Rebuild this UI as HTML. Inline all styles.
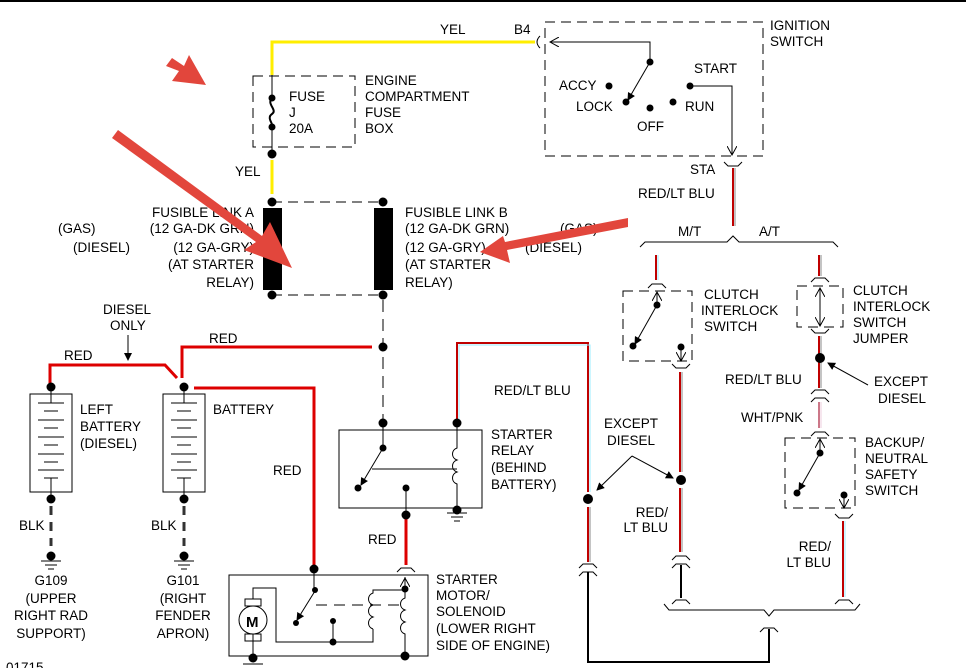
<!DOCTYPE html>
<html><head><meta charset="utf-8"><style>
html,body{margin:0;padding:0;background:#fff;}
svg{display:block;}
text{font-family:"Liberation Sans",sans-serif;font-size:13.5px;fill:#000;}
</style></head><body>
<svg width="966" height="668" viewBox="0 0 966 668" xmlns="http://www.w3.org/2000/svg">
<defs>
<marker id="ah" markerWidth="8" markerHeight="8" refX="7" refY="4" orient="auto" markerUnits="userSpaceOnUse"><path d="M0,0 L8,4 L0,8 Z" fill="#000"/></marker>
<marker id="oa" markerWidth="10" markerHeight="10" refX="9" refY="5" orient="auto" markerUnits="userSpaceOnUse"><path d="M0,0 L9,5 L0,10" fill="none" stroke="#000" stroke-width="1"/></marker>
</defs>
<rect x="0" y="0" width="966" height="2" fill="#000"/>
<g fill="none" stroke="#000" stroke-width="1">
<polyline points="272,75 272,42 535,42" stroke="#ffee00" stroke-width="3"/>
<line x1="272" y1="160" x2="272" y2="194" stroke="#ffee00" stroke-width="3"/>
<rect x="253" y="76" width="102" height="71" stroke-dasharray="10,6"/>
<line x1="272" y1="75" x2="272" y2="98"/>
<path d="M272,98 C266,104 278,110 272,114 C266,118 274,124 272,127" stroke-width="2"/>
<line x1="272" y1="127" x2="272" y2="154"/>
<line x1="272" y1="202" x2="383" y2="202" stroke-dasharray="10,6"/>
<line x1="272" y1="295" x2="383" y2="295" stroke-dasharray="10,6"/>
<line x1="383" y1="300" x2="383" y2="420" stroke-dasharray="12,7"/>
<rect x="545" y="22" width="218" height="134" stroke-dasharray="10,6"/>
<path d="M540,36 Q534,42 540,48"/>
<polyline points="650,62 650,42 550,42" marker-end="url(#oa)"/>
<line x1="650" y1="62" x2="628" y2="100" marker-end="url(#ah)"/>
<polyline points="690,86 732,86 732,155" marker-end="url(#oa)"/>
<polyline points="724,162 728,166 738,166 742,162"/>
<line x1="733" y1="168" x2="733" y2="226" stroke="#c00000" stroke-width="2"/>
<line x1="735" y1="168" x2="735" y2="226" stroke="#8a8a8a" stroke-width="1"/>
<path d="M640,247 L645,242 L727,242 L733,236 L739,242 L833,242 L838,247"/>
<line x1="656" y1="255" x2="656" y2="280" stroke="#c00000" stroke-width="2"/>
<line x1="658" y1="255" x2="658" y2="280" stroke="#99eeff" stroke-width="1"/>
<polyline points="648,288 652,284 662,284 666,288"/>
<rect x="623" y="291" width="69" height="70" stroke-dasharray="10,6"/>
<line x1="657" y1="304" x2="657" y2="292" marker-end="url(#oa)"/>
<line x1="657" y1="305" x2="635" y2="344" marker-end="url(#ah)"/>
<line x1="681" y1="347" x2="681" y2="361" marker-end="url(#oa)"/>
<polyline points="672,364 676,368 686,368 690,364"/>
<line x1="680" y1="372" x2="680" y2="472" stroke="#c00000" stroke-width="2"/>
<line x1="682" y1="372" x2="682" y2="472" stroke="#8a8a8a" stroke-width="1"/>
<line x1="680" y1="488" x2="680" y2="552" stroke="#c00000" stroke-width="2"/>
<line x1="682" y1="488" x2="682" y2="552" stroke="#8a8a8a" stroke-width="1"/>
<polyline points="672,560 676,556 686,556 690,560"/>
<polyline points="672,568 676,564 686,564 690,568"/>
<line x1="681" y1="565" x2="681" y2="598" stroke-width="2"/>
<polyline points="672,604 676,600 686,600 690,604"/>
<line x1="819" y1="255" x2="819" y2="276" stroke="#c00000" stroke-width="2"/>
<line x1="821" y1="255" x2="821" y2="276" stroke="#8a8a8a" stroke-width="1"/>
<polyline points="811,282 815,278 825,278 829,282"/>
<rect x="797" y="286" width="46" height="41" stroke-dasharray="10,6"/>
<line x1="820" y1="307" x2="820" y2="288" marker-end="url(#oa)"/>
<line x1="820" y1="307" x2="820" y2="326" marker-end="url(#oa)"/>
<polyline points="811,329 815,333 825,333 829,329"/>
<line x1="819" y1="336" x2="819" y2="388" stroke="#c00000" stroke-width="2"/>
<line x1="821" y1="336" x2="821" y2="388" stroke="#8a8a8a" stroke-width="1"/>
<polyline points="811,394 815,390 825,390 829,394"/>
<polyline points="811,402 815,398 825,398 829,402"/>
<line x1="819" y1="402" x2="819" y2="428" stroke="#cc7788" stroke-width="2"/>
<line x1="821" y1="402" x2="821" y2="428" stroke="#eeccdd" stroke-width="1"/>
<polyline points="811,436 815,432 825,432 829,436"/>
<rect x="785" y="438" width="70" height="70" stroke-dasharray="10,6"/>
<line x1="820" y1="453" x2="820" y2="439" marker-end="url(#oa)"/>
<line x1="820" y1="453" x2="799" y2="490" marker-end="url(#ah)"/>
<line x1="844" y1="495" x2="844" y2="508" marker-end="url(#oa)"/>
<polyline points="835,514 839,518 849,518 853,514"/>
<line x1="843" y1="521" x2="843" y2="597" stroke="#c00000" stroke-width="2"/>
<line x1="845" y1="521" x2="845" y2="597" stroke="#99eeff" stroke-width="1"/>
<polyline points="835,604 839,600 849,600 853,604"/>
<path d="M664,604 L669,610 L764,610 L769,616 L774,610 L855,610 L860,604"/>
<polyline points="760,632 764,628 774,628 778,632"/>
<polyline points="769,629 769,662 588,662 588,572" stroke-width="2"/>
<polyline points="579,576 583,572 593,572 597,576"/>
<polyline points="579,568 583,564 593,564 597,568"/>
<polyline points="457,423 457,343 588,343 588,492" stroke="#c00000" stroke-width="2"/>
<polyline points="459,423 459,345 590,345 590,492" stroke="#99eeff" stroke-width="1"/>
<line x1="588" y1="507" x2="588" y2="562" stroke="#c00000" stroke-width="2"/>
<line x1="590" y1="507" x2="590" y2="562" stroke="#8a8a8a" stroke-width="1"/>
<polyline points="632,456 597,490" marker-end="url(#ah)"/>
<polyline points="632,456 673,478" marker-end="url(#ah)"/>
<line x1="868" y1="385" x2="828" y2="363" marker-end="url(#ah)"/>
<polyline points="372,347 182,347 182,378" stroke="#dd0000" stroke-width="3"/>
<polyline points="50,386 50,365 165,365 177,378" stroke="#dd0000" stroke-width="3"/>
<polyline points="194,388 314,388 314,568" stroke="#dd0000" stroke-width="3"/>
<line x1="406" y1="516" x2="406" y2="565" stroke="#dd0000" stroke-width="3"/>
<line x1="128" y1="335" x2="128" y2="360" marker-end="url(#ah)"/>
<rect x="30" y="394" width="42" height="98"/>
<rect x="163" y="394" width="42" height="98"/>
<line x1="51" y1="387" x2="51" y2="403"/><line x1="184" y1="387" x2="184" y2="403"/>
<line x1="51" y1="478" x2="51" y2="499"/><line x1="184" y1="478" x2="184" y2="499"/>
<g id="plates">
<line x1="38" y1="403" x2="64" y2="403"/><line x1="44" y1="411" x2="58" y2="411"/>
<line x1="38" y1="420" x2="64" y2="420"/><line x1="44" y1="428" x2="58" y2="428"/>
<line x1="38" y1="437" x2="64" y2="437"/><line x1="44" y1="445" x2="58" y2="445"/>
<line x1="38" y1="454" x2="64" y2="454"/><line x1="44" y1="462" x2="58" y2="462"/>
<line x1="38" y1="470" x2="64" y2="470"/><line x1="44" y1="478" x2="58" y2="478"/>
</g>
<use href="#plates" transform="translate(133,0)"/>
<line x1="51" y1="506" x2="51" y2="546" stroke="#333" stroke-width="3" stroke-dasharray="9,7"/>
<line x1="184" y1="506" x2="184" y2="546" stroke="#333" stroke-width="3" stroke-dasharray="9,7"/>
<g id="gnd"><line x1="41" y1="561" x2="61" y2="561"/><line x1="45" y1="565" x2="57" y2="565"/><line x1="48" y1="569" x2="54" y2="569"/></g>
<use href="#gnd" transform="translate(133,0)"/>
<rect x="339" y="430" width="143" height="78"/>
<line x1="383" y1="423" x2="383" y2="448"/>
<line x1="383" y1="448" x2="361" y2="485" marker-end="url(#ah)"/>
<line x1="372" y1="469" x2="457" y2="469"/>
<path d="M457,423 L457,448 C451,450 451,458 457,460 C451,462 451,470 457,472 C451,474 451,482 457,484 L457,510"/>
<line x1="406" y1="488" x2="406" y2="515"/>
<line x1="447" y1="513" x2="467" y2="513"/><line x1="451" y1="517" x2="463" y2="517"/><line x1="454" y1="521" x2="460" y2="521"/>
<rect x="229" y="575" width="199" height="81"/>
<circle cx="253" cy="620" r="14"/>
<rect x="245" y="599" width="16" height="7"/><rect x="245" y="634" width="16" height="7"/>
<polyline points="253,599 253,588 276,588 276,642 373,642 373,629"/>
<path d="M373,629 C367,627 367,619 373,617 C367,615 367,607 373,605 C367,603 367,595 373,593 L373,590 L405,590"/>
<path d="M405,577 L405,598 C399,600 399,608 405,610 C399,612 399,620 405,622 C399,624 399,632 405,634 L405,656"/>
<line x1="405" y1="590" x2="405" y2="578" marker-end="url(#oa)"/>
<polyline points="397,572 401,568 411,568 415,572"/>
<line x1="314" y1="568" x2="314" y2="590"/>
<line x1="315" y1="591" x2="297" y2="620" marker-end="url(#ah)"/>
<line x1="316" y1="605" x2="402" y2="605" stroke-dasharray="11,7"/>
<line x1="333" y1="621" x2="333" y2="642"/>
<line x1="253" y1="634" x2="253" y2="658"/>
<line x1="243" y1="664" x2="263" y2="664"/>
</g>
<rect x="263" y="208" width="19" height="82" fill="#000"/>
<rect x="374" y="208" width="19" height="82" fill="#000"/>
<g fill="#000">
<circle cx="272" cy="98" r="3.5"/><circle cx="272" cy="127" r="3.5"/><circle cx="272" cy="154" r="4.5"/>
<circle cx="272" cy="202" r="4.5"/><circle cx="383" cy="202" r="4.5"/>
<circle cx="272" cy="295" r="4.5"/><circle cx="383" cy="295" r="4.5"/>
<circle cx="383" cy="347" r="4.5"/>
<circle cx="650" cy="62" r="3.5"/><circle cx="609" cy="86" r="3.5"/><circle cx="626" cy="102" r="3.5"/>
<circle cx="650" cy="108" r="3.5"/><circle cx="673" cy="102" r="3.5"/><circle cx="690" cy="86" r="3.5"/>
<circle cx="657" cy="305" r="3.5"/><circle cx="633" cy="346" r="3.5"/><circle cx="681" cy="347" r="3.5"/>
<circle cx="820" cy="358" r="5"/><circle cx="681" cy="480" r="5"/><circle cx="588" cy="499" r="5"/>
<circle cx="820" cy="453" r="3.5"/><circle cx="797" cy="493" r="3.5"/><circle cx="844" cy="495" r="3.5"/>
<circle cx="51" cy="387" r="4.5"/><circle cx="184" cy="387" r="4.5"/>
<circle cx="51" cy="499" r="4.5"/><circle cx="184" cy="499" r="4.5"/>
<circle cx="51" cy="556" r="4.5"/><circle cx="184" cy="556" r="4.5"/>
<circle cx="383" cy="423" r="4.5"/><circle cx="457" cy="423" r="4.5"/>
<circle cx="383" cy="448" r="3.5"/><circle cx="358" cy="488" r="3.5"/><circle cx="406" cy="488" r="3.5"/>
<circle cx="406" cy="515" r="4.5"/><circle cx="457" cy="510" r="4.5"/>
<circle cx="314" cy="569" r="4.5"/><circle cx="315" cy="590" r="3"/><circle cx="296" cy="623" r="3"/>
<circle cx="333" cy="621" r="3"/><circle cx="333" cy="642" r="3.5"/>
<circle cx="405" cy="589" r="3.5"/><circle cx="405" cy="656" r="4.5"/><circle cx="253" cy="658" r="4.5"/>
</g>
<text x="440" y="34">YEL</text>
<text x="514" y="34">B4</text>
<text x="365" y="85">ENGINE</text><text x="365" y="101">COMPARTMENT</text><text x="365" y="117">FUSE</text><text x="365" y="133">BOX</text>
<text x="289" y="101">FUSE</text><text x="289" y="117">J</text><text x="289" y="133">20A</text>
<text x="235" y="176">YEL</text>
<text x="254" y="217" text-anchor="end">FUSIBLE LINK A</text>
<text x="254" y="233" text-anchor="end">(12 GA-DK GRN)</text>
<text x="254" y="252" text-anchor="end">(12 GA-GRY)</text>
<text x="254" y="269" text-anchor="end">(AT STARTER</text>
<text x="254" y="287" text-anchor="end">RELAY)</text>
<text x="58" y="233">(GAS)</text><text x="73" y="252">(DIESEL)</text>
<text x="405" y="217">FUSIBLE LINK B</text><text x="405" y="233">(12 GA-DK GRN)</text>
<text x="405" y="252">(12 GA-GRY)</text><text x="405" y="269">(AT STARTER</text><text x="405" y="287">RELAY)</text>
<text x="560" y="233">(GAS)</text><text x="525" y="252">(DIESEL)</text>
<text x="770" y="30">IGNITION</text><text x="770" y="46">SWITCH</text>
<text x="559" y="90">ACCY</text><text x="576" y="111">LOCK</text><text x="637" y="131">OFF</text>
<text x="694" y="73">START</text><text x="685" y="111">RUN</text>
<text x="690" y="174">STA</text>
<text x="638" y="198">RED/LT BLU</text>
<text x="678" y="236">M/T</text><text x="759" y="236">A/T</text>
<text x="704" y="299">CLUTCH</text><text x="701" y="315">INTERLOCK</text><text x="704" y="331">SWITCH</text>
<text x="853" y="295">CLUTCH</text><text x="853" y="311">INTERLOCK</text><text x="853" y="327">SWITCH</text><text x="853" y="343">JUMPER</text>
<text x="725" y="384">RED/LT BLU</text>
<text x="874" y="386">EXCEPT</text><text x="878" y="403">DIESEL</text>
<text x="741" y="422">WHT/PNK</text>
<text x="865" y="447">BACKUP/</text><text x="865" y="463">NEUTRAL</text><text x="865" y="479">SAFETY</text><text x="865" y="495">SWITCH</text>
<text x="604" y="428">EXCEPT</text><text x="607" y="445">DIESEL</text>
<text x="668" y="517" text-anchor="end">RED/</text><text x="668" y="532" text-anchor="end">LT BLU</text>
<text x="831" y="551" text-anchor="end">RED/</text><text x="831" y="567" text-anchor="end">LT BLU</text>
<text x="494" y="395">RED/LT BLU</text>
<text x="491" y="439">STARTER</text><text x="491" y="455">RELAY</text><text x="491" y="472">(BEHIND</text><text x="491" y="489">BATTERY)</text>
<text x="103" y="314">DIESEL</text><text x="110" y="330">ONLY</text>
<text x="64" y="360">RED</text><text x="209" y="343">RED</text>
<text x="80" y="414">LEFT</text><text x="80" y="431">BATTERY</text><text x="80" y="448">(DIESEL)</text>
<text x="213" y="414">BATTERY</text>
<text x="273" y="475">RED</text>
<text x="368" y="544">RED</text>
<text x="19" y="530">BLK</text><text x="151" y="530">BLK</text>
<text x="51" y="585" text-anchor="middle">G109</text><text x="51" y="603" text-anchor="middle">(UPPER</text>
<text x="51" y="620" text-anchor="middle">RIGHT RAD</text><text x="51" y="638" text-anchor="middle">SUPPORT)</text>
<text x="183" y="585" text-anchor="middle">G101</text><text x="183" y="603" text-anchor="middle">(RIGHT</text>
<text x="183" y="620" text-anchor="middle">FENDER</text><text x="183" y="638" text-anchor="middle">APRON)</text>
<text x="436" y="584">STARTER</text><text x="436" y="600">MOTOR/</text><text x="436" y="616">SOLENOID</text>
<text x="436" y="633">(LOWER RIGHT</text><text x="436" y="650">SIDE OF ENGINE)</text>
<text x="246" y="627" font-weight="bold" style="font-size:15px">M</text>
<text x="6" y="672">01715</text>
<g fill="#e2463c" stroke="none">
<path d="M166,66 L172,58 L184,66 L189,55 L206,85 L172,81 L179,71 Z"/>
<path d="M112,138 L118,130 L262,236 L270,222 L292,268 L244,250 L256,242 Z"/>
<path d="M628,218 L628,227 L507,250 L510,263 L480,252 L503,236 L505,242 Z"/>
</g>
</svg>
</body></html>
